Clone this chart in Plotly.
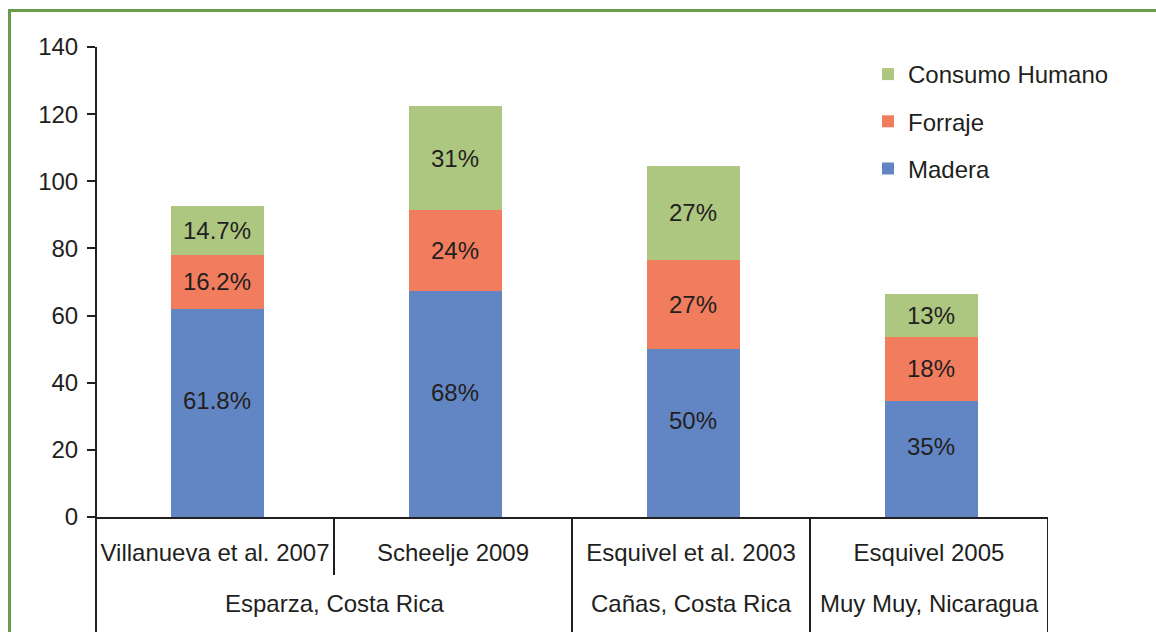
import plotly.graph_objects as go

studies = ["Villanueva et al. 2007", "Scheelje 2009", "Esquivel et al. 2003", "Esquivel 2005"]
locations = ["Esparza, Costa Rica", "Cañas, Costa Rica", "Muy Muy, Nicaragua"]
location_spans = [(0, 1), (2, 2), (3, 3)]  # first and last study index per location

madera = [62.0, 67.2, 50.1, 34.6]
forraje = [16.1, 24.1, 26.6, 19.1]
consumo = [14.4, 31.0, 27.8, 12.6]

madera_lbl = ["61.8%", "68%", "50%", "35%"]
forraje_lbl = ["16.2%", "24%", "27%", "18%"]
consumo_lbl = ["14.7%", "31%", "27%", "13%"]

y_ticks = [0, 20, 40, 60, 80, 100, 120, 140]

C_MADERA = "#6286C4"
C_FORRAJE = "#F27D5E"
C_CONSUMO = "#AEC780"
INK = "#231F20"
FONT = "Arial, Liberation Sans, sans-serif"
FS = 24

W, H = 1156, 632
ML, MR, MT, MB = 96, 108, 47, 115
PW = W - ML - MR
PH = H - MT - MB

def px_x(p):
    return (p - ML) / PW

def px_y(p):
    return (H - MB - p) / PH

fig = go.Figure()
series = [("Madera", madera, C_MADERA, 3),
          ("Forraje", forraje, C_FORRAJE, 2),
          ("Consumo Humano", consumo, C_CONSUMO, 1)]
for name, vals, col, rank in series:
    fig.add_trace(go.Bar(
        x=studies, y=vals, name=name, marker=dict(color=col, line=dict(width=0)),
        width=0.39, offset=-0.185, legendgroup=name, legendrank=rank, hoverinfo="skip"))

annotations = []
for i in range(len(studies)):
    base = 0
    for vals, lbls, shift in [(madera, madera_lbl, 12), (forraje, forraje_lbl, 0), (consumo, consumo_lbl, 0)]:
        annotations.append(dict(
            x=i + 0.01, y=base + vals[i] / 2, xref="x", yref="y", text=lbls[i],
            showarrow=False, yshift=shift, font=dict(size=FS, color=INK, family=FONT)))
        base += vals[i]

# location labels (second row)
for loc, (a, b) in zip(locations, location_spans):
    annotations.append(dict(
        x=(a + b) / 2, y=px_y(603), xref="x", yref="paper", text=loc,
        yanchor="middle", showarrow=False, font=dict(size=FS, color=INK, family=FONT)))

shapes = []
line_style = dict(color=INK, width=2)
# y-axis line extended to bottom
shapes.append(dict(type="line", xref="paper", yref="paper", x0=0, x1=0,
                   y0=1, y1=px_y(640), line=line_style))
# short separator between studies in same location
shapes.append(dict(type="line", xref="x", yref="paper", x0=0.5, x1=0.5,
                   y0=0, y1=px_y(575), line=line_style))
# full separators at location boundaries and right end
for xv in [1.5, 2.5, 3.5]:
    shapes.append(dict(type="line", xref="x", yref="paper", x0=xv, x1=xv,
                       y0=0, y1=px_y(640), line=line_style))
# green frame
shapes.append(dict(type="rect", xref="paper", yref="paper",
                   x0=px_x(9.5), x1=px_x(1200), y0=px_y(10.5), y1=px_y(700),
                   line=dict(color="#6B9B4B", width=3), layer="above"))

fig.update_layout(
    barmode="stack",
    width=W, height=H,
    margin=dict(l=ML, r=MR, t=MT, b=MB, autoexpand=False),
    paper_bgcolor="white", plot_bgcolor="white",
    font=dict(family=FONT, size=FS, color=INK),
    showlegend=True,
    legend=dict(x=px_x(868), y=px_y(52), xanchor="left", yanchor="top",
                traceorder="grouped", tracegroupgap=13,
                font=dict(size=FS, color=INK, family=FONT),
                bgcolor="rgba(0,0,0,0)", itemwidth=30),
    xaxis=dict(range=[-0.5, 3.5], showline=True, linecolor=INK, linewidth=2,
               ticks="", showgrid=False, tickfont=dict(size=FS, color=INK),
               ticklabelstandoff=13, fixedrange=True),
    yaxis=dict(range=[0, 140], tickvals=y_ticks, showline=False,
               ticks="outside", ticklen=8, tickwidth=2, tickcolor=INK,
               showgrid=False, zeroline=False, tickfont=dict(size=FS, color=INK),
               ticklabelstandoff=4, fixedrange=True),
    annotations=annotations, shapes=shapes,
)

fig.write_html("out.html", config={"displayModeBar": False},
               post_script="document.body.style.margin='0';document.body.style.overflow='hidden';")
